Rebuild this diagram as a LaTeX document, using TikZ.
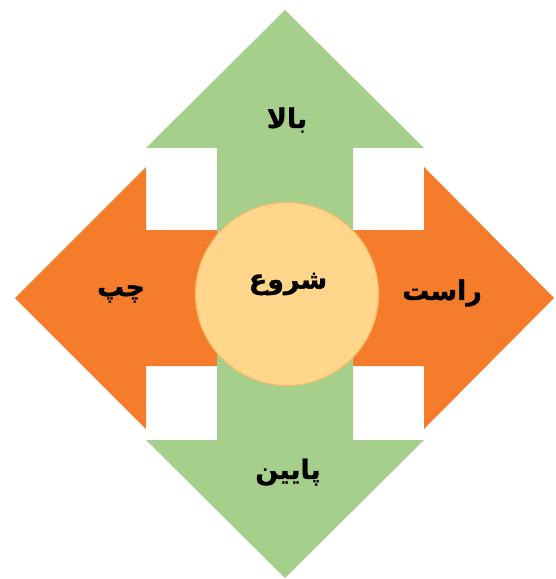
\documentclass[tikz,border=0pt]{standalone}
\usepackage{fontspec}
\usepackage{tikz}
\newfontfamily\arabicfont[Script=Arabic,BoldFeatures={FakeBold=1.2}]{DejaVu Sans}
\TeXXeTstate=1
\definecolor{upgreen}{HTML}{A7CF8C}
\definecolor{sideorange}{HTML}{F47C2B}
\definecolor{startfill}{HTML}{FFD68B}
\definecolor{startline}{HTML}{F6BC6A}

\begin{document}
\begin{tikzpicture}[x=1bp,y=-1bp,
  dirtext/.style={font=\arabicfont\bfseries\fontsize{27}{30}\selectfont, inner sep=0pt}]
\useasboundingbox (0,0) rectangle (556,579);
\fill[sideorange] (15,298) -- (146,167) -- (146,230) -- (424,230) -- (424,167) -- (554,298)
  -- (424,429) -- (424,366) -- (146,366) -- (146,429) -- cycle;
\fill[upgreen] (285,10) -- (424,148) -- (353,148) -- (353,440) -- (424,440) -- (285,578)
  -- (146,440) -- (217,440) -- (217,148) -- (146,148) -- cycle;
\node[circle, fill=startfill, draw=startline, line width=1.2bp, minimum size=183bp] (start) at (287,294) {};
\node[dirtext] (starttext) at (288,284) {\beginR شروع\endR};
\node[dirtext] (uptext) at (287,120) {\beginR بالا\endR};
\node[dirtext] (downtext) at (288,472) {\beginR پایین\endR};
\node[dirtext] (lefttext) at (121,294) {\beginR چپ\endR};
\node[dirtext] (righttext) at (442,293) {\beginR راست\endR};
\end{tikzpicture}
\end{document}
